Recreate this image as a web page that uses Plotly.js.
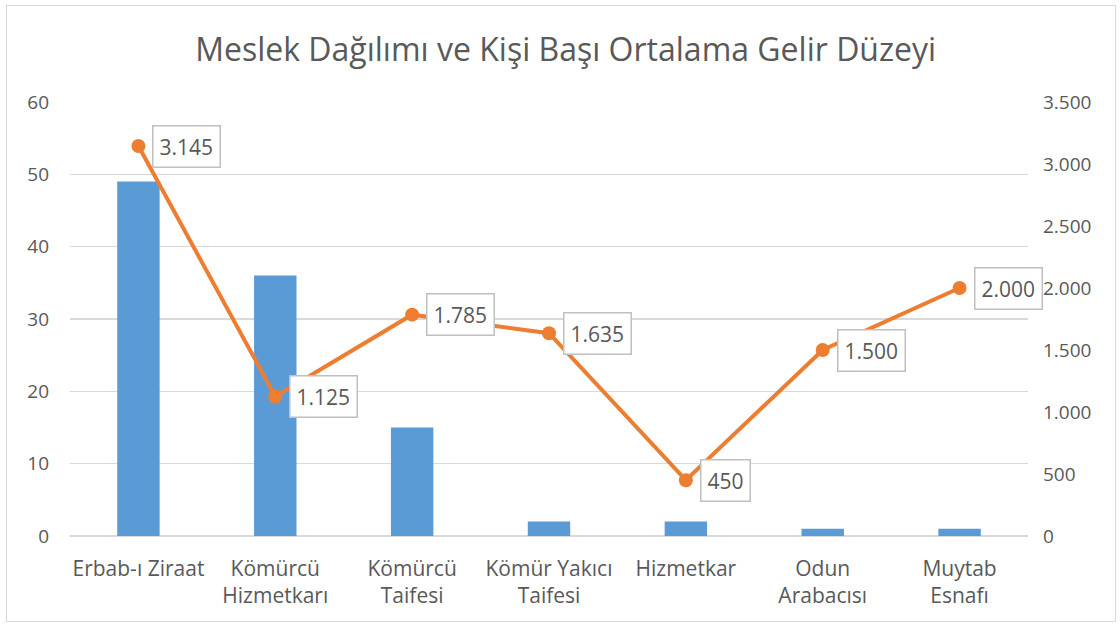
<!DOCTYPE html>
<html>
<head>
<meta charset="utf-8">
<script src="https://cdn.plot.ly/plotly-3.0.1.min.js"></script>
<style>
html,body{margin:0;padding:0;background:#fff;}
#wrap{position:relative;width:1120px;height:627px;}
#chart{width:1120px;height:627px;}
#frame{position:absolute;left:6px;top:5px;width:1108px;height:615px;border:1.5px solid #D9D9D9;pointer-events:none;}
</style>
</head>
<body>
<div id="wrap"><div id="chart"></div><div id="frame"></div></div>
<script>
const categories = ["Erbab-ı Ziraat", "Kömürcü<br>Hizmetkarı", "Kömürcü<br>Taifesi", "Kömür Yakıcı<br>Taifesi", "Hizmetkar", "Odun<br>Arabacısı", "Muytab<br>Esnafı"];
const counts = [49, 36, 15, 2, 2, 1, 1];
const incomes = [3145, 1125, 1785, 1635, 450, 1500, 2000];
const leftTicks = [0, 10, 20, 30, 40, 50, 60];
const rightTicks = [0, 500, 1000, 1500, 2000, 2500, 3000, 3500];

function trFmt(v){ return String(v).replace(/\B(?=(\d{3})+(?!\d))/g, "."); }

const font = "Open Sans, sans-serif";
const textColor = "#595959";

const traces = [
  {type: "bar", x: categories, y: counts, marker: {color: "#5B9BD5"}, width: 0.31, hoverinfo: "skip", name: "Sayı"},
  {type: "scatter", mode: "lines+markers", x: categories, y: incomes, yaxis: "y2",
   line: {color: "#ED7D31", width: 4}, marker: {color: "#ED7D31", size: 14}, hoverinfo: "skip", name: "Gelir", cliponaxis: false}
];

const annotations = incomes.map((v, i) => ({
  x: categories[i], y: v, xref: "x", yref: "y2", text: trFmt(v),
  showarrow: false, xanchor: "left", yanchor: "middle", xshift: 14,
  bordercolor: "#BFBFBF", borderwidth: 1.5, borderpad: 6, bgcolor: "#FFFFFF",
  font: {family: font, size: 21, color: textColor}
}));

const layout = {
  width: 1120, height: 627,
  margin: {l: 70, r: 92, t: 102, b: 91, autoexpand: false},
  paper_bgcolor: "#FFFFFF", plot_bgcolor: "#FFFFFF",
  separators: ",.",
  showlegend: false,
  title: {text: "Meslek Dağılımı ve Kişi Başı Ortalama Gelir Düzeyi", x: 0.505, xref: "container", y: 0.92, yref: "container", yanchor: "middle",
          font: {family: font, size: 32, color: textColor}},
  xaxis: {range: [-0.5, 6.5], automargin: false, tickfont: {family: font, size: 21, color: textColor}, showline: false, showgrid: false, zeroline: false, ticks: "", ticklen: 0, ticklabelstandoff: 18},
  yaxis: {range: [0, 60], automargin: false, tickvals: leftTicks, showgrid: true, gridcolor: "#D9D9D9", gridwidth: 1.5, zeroline: true, zerolinecolor: "#D9D9D9", zerolinewidth: 1.5,
          tickfont: {family: font, size: 19, color: textColor}, ticks: "", ticklabelstandoff: 20},
  yaxis2: {range: [0, 3500], automargin: false, tickvals: rightTicks, ticktext: rightTicks.map(trFmt), overlaying: "y", side: "right", showgrid: false, zeroline: false,
          tickfont: {family: font, size: 19, color: textColor}, ticks: "", ticklabelstandoff: 14},
  annotations: annotations
};

Plotly.newPlot("chart", traces, layout, {displayModeBar: false, staticPlot: true});
</script>
</body>
</html>
